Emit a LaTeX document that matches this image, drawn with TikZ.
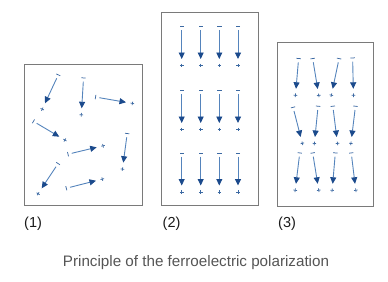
\documentclass[tikz,border=0pt]{standalone}
\usepackage{fontspec}
\setmainfont{Liberation Sans}
\usetikzlibrary{calc,arrows.meta}
\definecolor{shaftc}{HTML}{5584BC}
\definecolor{headc}{HTML}{1B4A8C}
\definecolor{signc}{HTML}{3D6AA3}
\definecolor{boxc}{HTML}{7A7A7A}
\definecolor{capc}{HTML}{555555}
\definecolor{labc}{HTML}{1A1A1A}
\tikzset{
  panel/.style={draw=boxc, line width=0.9pt},
  shaft/.style={draw=shaftc, line width=0.9pt, -{Triangle[length=6.5pt,width=6pt,fill=headc,color=headc]}},
  sign/.style={draw=signc, line width=0.75pt},
  plab/.style={font=\fontsize{14.5}{16}\selectfont, text=labc, anchor=west, inner sep=0pt},
}
\newcommand\dipole[3]{%
  \coordinate (#1t) at (#2);
  \coordinate (#1h) at (#3);
  \draw[shaft] (#1t) -- (#1h);
  \coordinate (#1m) at ($(#1t)!-3.8pt!(#1h)$);
  \draw[sign] ($(#1m)!2.2pt!90:(#1h)$) -- ($(#1m)!2.2pt!-90:(#1h)$);
  \coordinate (#1p) at ($(#1h)!-6.5pt!(#1t)$);
  \draw[sign] ($(#1p)!1.8pt!90:(#1h)$) -- ($(#1p)!1.8pt!-90:(#1h)$);
  \draw[sign] ($(#1p)!1.8pt!(#1h)$) -- ($(#1p)!-1.8pt!(#1h)$);
}
\begin{document}
\begin{tikzpicture}[x=1pt,y=-1pt]
\useasboundingbox (0,0) rectangle (388,281);
% panels
\draw[panel] (24,64) rectangle (142.5,205.5);
\draw[panel] (161.7,12.5) rectangle (258.3,205.5);
\draw[panel] (277,42.5) rectangle (373,206);
% panel 1
\dipole{a}{56.7,78.3}{45,103.3}
\dipole{b}{83.3,81.7}{81.7,108.3}
\dipole{c}{99.3,97.7}{126,102.3}
\dipole{d}{36.7,123.3}{59.3,136.7}
\dipole{e}{71.7,153.3}{96.7,147.3}
\dipole{f}{126.7,137.3}{123.3,162.7}
\dipole{g}{56,166.7}{41.7,188.3}
\dipole{h}{70,187.3}{96,180.7}
% panel 2
\foreach \c/\x in {1/181.7,2/200.7,3/219.3,4/238}{
  \foreach \r/\ya/\yb in {1/30/59,2/94.3/123,3/156.7/185.5}{
    \dipole{p\c\r}{\x,\ya}{\x,\yb}
  }
}
% panel 3
\dipole{q11}{298.3,62.3}{296,88.8}
\dipole{q12}{313.3,62.3}{317.7,89}
\dipole{q13}{338.3,62.3}{332.7,88.8}
\dipole{q14}{352.7,61.7}{353.3,88.8}
\dipole{q21}{294,111}{300.7,137}
\dipole{q22}{317.7,110}{315,137}
\dipole{q23}{333.3,110}{336.7,137}
\dipole{q24}{355,110}{351.7,137}
\dipole{q31}{299.3,156.7}{296,183.8}
\dipole{q32}{313.3,156.7}{317.7,183.8}
\dipole{q33}{335,156.7}{332.7,183.8}
\dipole{q34}{351.7,156.7}{355,183.8}
% labels
\node[plab] (l1) at (24,224) {(1)};
\node[plab] (l2) at (162.5,224) {(2)};
\node[plab] (l3) at (278,224) {(3)};
\node[font=\fontsize{15.2}{18}\selectfont, text=capc, inner sep=0pt] (cap) at (196,262.5) {Principle of the ferroelectric polarization};
\end{tikzpicture}
\end{document}
